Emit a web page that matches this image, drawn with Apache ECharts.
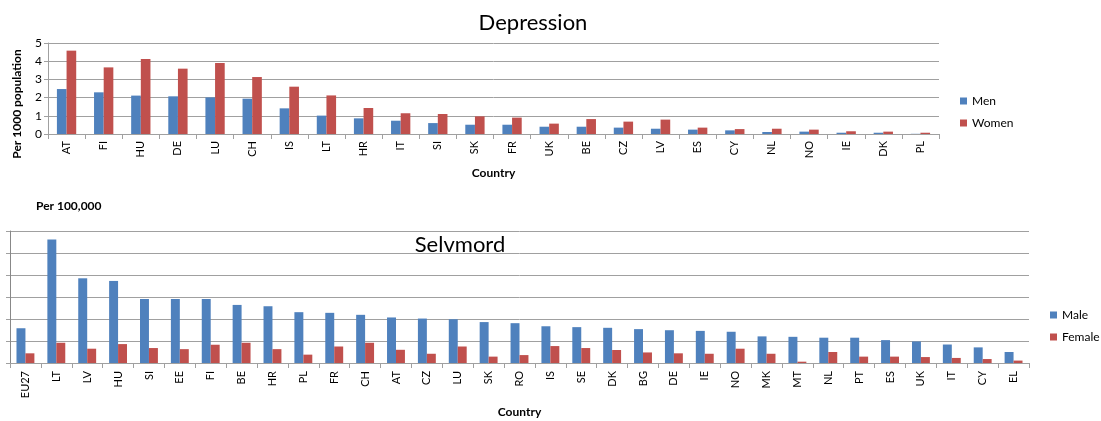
<!DOCTYPE html>
<html><head><meta charset="utf-8">
<script src="https://cdn.jsdelivr.net/npm/echarts@6/dist/echarts.min.js"></script>
<style>html,body{margin:0;padding:0;background:#fff}#c{width:1101px;height:421px}</style>
</head><body><div id="c"></div>
<script>
const depCountries = ['AT','FI','HU','DE','LU','CH','IS','LT','HR','IT','SI','SK','FR','UK','BE','CZ','LV','ES','CY','NL','NO','IE','DK','PL'];
const depMen   = [2.47,2.29,2.11,2.07,2.01,1.94,1.41,1.01,0.86,0.73,0.60,0.51,0.51,0.40,0.40,0.35,0.29,0.24,0.20,0.11,0.13,0.07,0.07,0.01];
const depWomen = [4.58,3.66,4.12,3.59,3.90,3.13,2.60,2.12,1.43,1.14,1.10,0.97,0.90,0.57,0.82,0.68,0.79,0.35,0.27,0.29,0.24,0.15,0.13,0.07];
const depTicks = [0,1,2,3,4,5];

const suiCountries = ['EU27','LT','LV','HU','SI','EE','FI','BE','HR','PL','FR','CH','AT','CZ','LU','SK','RO','IS','SE','DK','BG','DE','IE','NO','MK','MT','NL','PT','ES','UK','IT','CY','EL'];
const suiMale   = [15.8,56.1,38.5,37.3,29.1,29.1,29.1,26.4,25.8,23.1,22.8,21.9,20.7,20.2,19.9,18.6,18.1,16.7,16.3,16.0,15.4,14.9,14.6,14.2,12.1,11.9,11.5,11.5,10.4,9.8,8.4,7.1,5.0];
const suiFemale = [4.4,9.2,6.5,8.6,6.8,6.3,8.3,9.2,6.3,3.8,7.5,9.2,6.0,4.2,7.5,2.9,3.6,7.7,6.8,5.9,4.8,4.4,4.2,6.5,4.2,0.6,5.0,2.9,2.9,2.7,2.3,1.8,1.1];

const BLUE = '#4F81BD', RED = '#C0504D', GRID = '#a0a0a0', FONT = 'Lato';
const chart = echarts.init(document.getElementById('c'));
const catAxis = (idx, data, name, nameGap, margin) => ({
  type: 'category', gridIndex: idx, data: data,
  name: name, nameLocation: 'middle', nameGap: nameGap,
  nameTextStyle: {fontFamily: FONT, fontWeight: 'bold', fontSize: 12, color: '#000'},
  axisLine: {lineStyle: {color: GRID}},
  axisTick: {show: true, alignWithLabel: false, length: 5, lineStyle: {color: GRID}},
  axisLabel: {rotate: 90, interval: 0, margin: margin, fontFamily: FONT, fontSize: 11, color: '#000'}
});
chart.setOption({
  animation: false,
  title: [
    {text: 'Depression', left: 528, top: 7, textAlign: 'center', textStyle: {fontFamily: FONT, fontWeight: 'normal', fontSize: 22, color: '#000'}},
    {text: 'Selvmord', left: 455, top: 229, textAlign: 'center', textStyle: {fontFamily: FONT, fontWeight: 'normal', fontSize: 22, color: '#000'}},
    {text: 'Per 100,000', left: 31, top: 195, textStyle: {fontFamily: FONT, fontWeight: 'bold', fontSize: 12, color: '#000'}}
  ],
  graphic: [
    {type: 'text', x: 17, y: 104, rotation: Math.PI / 2,
     style: {text: 'Per 1000 population', align: 'center', verticalAlign: 'middle',
             font: 'bold 12px ' + FONT, fill: '#000'}}
  ],
  legend: [
    {data: ['Men','Women'], orient: 'vertical', left: 955, top: 90, itemWidth: 7, itemHeight: 7, itemGap: 10, icon: 'rect',
     textStyle: {fontFamily: FONT, fontSize: 12, color: '#000'}},
    {data: ['Male','Female'], orient: 'vertical', left: 1045, top: 304, itemWidth: 7, itemHeight: 7, itemGap: 10, icon: 'rect',
     textStyle: {fontFamily: FONT, fontSize: 12, color: '#000'}}
  ],
  grid: [
    {left: 48, width: 891, top: 43, height: 91},
    {left: 10, width: 1019, top: 231, height: 132}
  ],
  xAxis: [
    catAxis(0, depCountries, 'Country', 33, 7),
    catAxis(1, suiCountries, 'Country', 43, 8)
  ],
  yAxis: [
    {type: 'value', gridIndex: 0, min: depTicks[0], max: depTicks[depTicks.length-1], interval: 1,
     axisLine: {show: true, lineStyle: {color: GRID}},
     axisTick: {show: true, length: 4, lineStyle: {color: GRID}},
     axisLabel: {fontFamily: FONT, fontSize: 12, color: '#000', margin: 6},
     splitLine: {lineStyle: {color: GRID}}},
    {type: 'value', gridIndex: 1, min: 0, max: 60, interval: 10,
     axisLine: {show: true, lineStyle: {color: '#888'}},
     axisTick: {show: true, length: 4, lineStyle: {color: GRID}},
     axisLabel: {show: false},
     splitLine: {lineStyle: {color: GRID}}}
  ],
  series: [
    {name: 'Men', type: 'bar', xAxisIndex: 0, yAxisIndex: 0, data: depMen, itemStyle: {color: BLUE}, barGap: '0%', barCategoryGap: '48%'},
    {name: 'Women', type: 'bar', xAxisIndex: 0, yAxisIndex: 0, data: depWomen, itemStyle: {color: RED}, barGap: '0%', barCategoryGap: '48%'},
    {name: 'Male', type: 'bar', xAxisIndex: 1, yAxisIndex: 1, data: suiMale, itemStyle: {color: BLUE}, barGap: '0%', barCategoryGap: '42%'},
    {name: 'Female', type: 'bar', xAxisIndex: 1, yAxisIndex: 1, data: suiFemale, itemStyle: {color: RED}, barGap: '0%', barCategoryGap: '42%'}
  ]
});
</script></body></html>
